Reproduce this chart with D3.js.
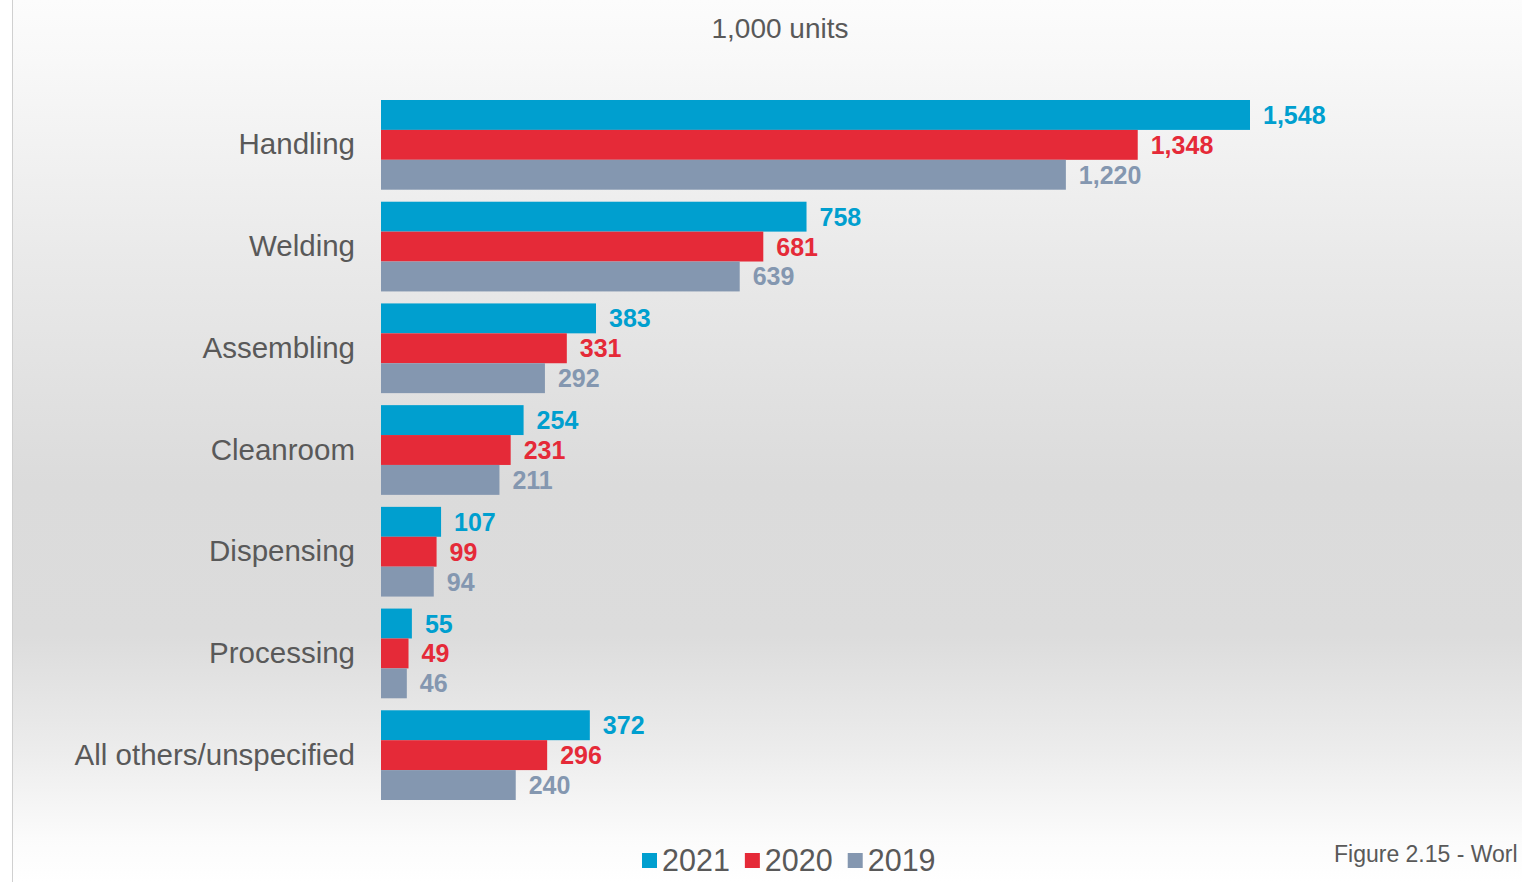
<!DOCTYPE html>
<html><head><meta charset="utf-8">
<script src="https://cdn.jsdelivr.net/npm/d3@7"></script>
<style>html,body{margin:0;padding:0;background:#fff;overflow:hidden}svg{display:block}</style>
</head><body>
<svg id="c" width="1522" height="882"></svg>
<script>
const categories = ["Handling","Welding","Assembling","Cleanroom","Dispensing","Processing","All others/unspecified"];
const years = ["2021","2020","2019"];
const v2021 = [1548,758,383,254,107,55,372];
const v2020 = [1348,681,331,231,99,49,296];
const v2019 = [1220,639,292,211,94,46,240];
const colors = ["#009fcf","#e52a38","#8497b0"];
const title = "1,000 units";
const caption = "Figure 2.15 - Worl";

const series = [v2021, v2020, v2019];
const svg = d3.select("#c");
const W = 1522, H = 882;

const defs = svg.append("defs");
const lgr = defs.append("linearGradient").attr("id","bg").attr("x1",0).attr("y1",0).attr("x2",0).attr("y2",1);
[[0,"#fcfcfc"],[0.07,"#f8f8f8"],[0.3,"#e9e9e9"],[0.55,"#dbdbdb"],[0.72,"#dcdcdc"],[0.85,"#ececec"],[0.95,"#fbfbfb"],[1,"#ffffff"]]
  .forEach(s=>lgr.append("stop").attr("offset",s[0]).attr("stop-color",s[1]));

svg.append("rect").attr("x",13).attr("y",0).attr("width",W-13).attr("height",H).attr("fill","url(#bg)");
svg.append("line").attr("x1",12.5).attr("x2",12.5).attr("y1",0).attr("y2",H).attr("stroke","#d0d0d0").attr("stroke-width",1);

const x = d3.scaleLinear().domain([0,1548]).range([381,1250]);
const y = d3.scaleBand().domain(categories).range([94,806]).paddingInner(0.118).paddingOuter(0.059);
const yi = d3.scaleBand().domain(years).range([0,y.bandwidth()]);

svg.append("text").attr("x",780).attr("y",38).attr("text-anchor","middle")
  .attr("font-family","Liberation Sans, Arial, sans-serif").attr("font-size",28).attr("fill","#595959").text(title);

const g = svg.append("g");
categories.forEach((c,i)=>{
  g.append("text").attr("x",355).attr("y",y(c)+y.bandwidth()/2-1).attr("text-anchor","end")
    .attr("dominant-baseline","central")
    .attr("font-family","Liberation Sans, Arial, sans-serif").attr("font-size",29.5).attr("fill","#595959").text(c);
  years.forEach((yr,j)=>{
    const val = series[j][i];
    g.append("rect").attr("x",x(0)).attr("y",y(c)+yi(yr)).attr("width",x(val)-x(0)).attr("height",yi.bandwidth())
      .attr("fill",colors[j]);
    g.append("text").attr("x",x(val)+13).attr("y",y(c)+yi(yr)+yi.bandwidth()/2)
      .attr("dominant-baseline","central")
      .attr("font-family","Liberation Sans, Arial, sans-serif").attr("font-weight","bold").attr("font-size",25)
      .attr("fill",colors[j]).text(d3.format(",")(val));
  });
});

// legend
const lg = svg.append("g").attr("transform","translate(642,860)");
let lx = 0;
years.forEach((yr,j)=>{
  lg.append("rect").attr("x",lx).attr("y",-7).attr("width",15).attr("height",15).attr("fill",colors[j]);
  const t = lg.append("text").attr("x",lx+20).attr("y",0).attr("dominant-baseline","central")
    .attr("font-family","Liberation Sans, Arial, sans-serif").attr("font-size",30.5).attr("fill","#595959").text(yr);
  lx += 20 + t.node().getComputedTextLength() + 15;
});

svg.append("text").attr("x",1334).attr("y",862).attr("font-family","Liberation Sans, Arial, sans-serif")
  .attr("font-size",23).attr("fill","#595959").text(caption);
</script>
</body></html>
